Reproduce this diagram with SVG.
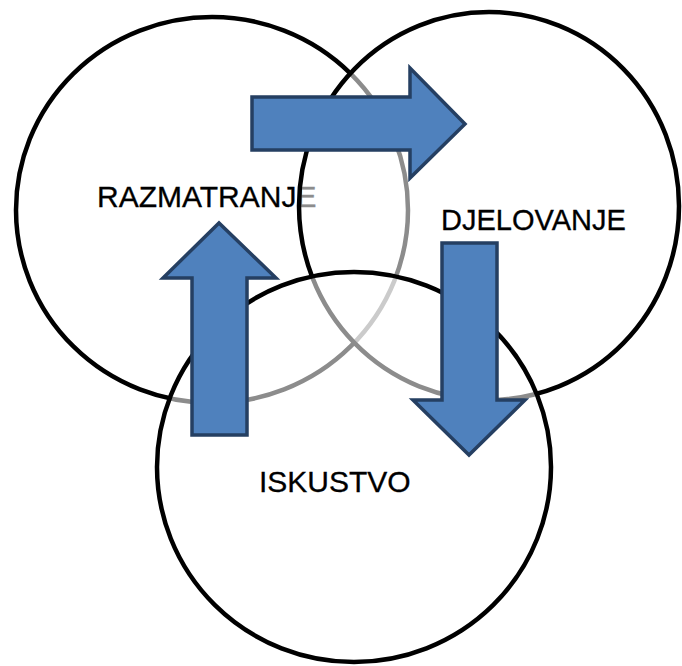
<svg xmlns="http://www.w3.org/2000/svg" width="682" height="666" viewBox="0 0 682 666">
  <style>
    .circ { fill: #ffffff; fill-opacity: 0.55; stroke: #000000; stroke-width: 4.5; }
    .lbl { font-family: "Liberation Sans", Arial, sans-serif; font-size: 30px; fill: #000000; stroke: #000000; stroke-width: 0.3; }
    .arrow { fill: #4F81BD; stroke: #253F62; stroke-width: 3.5; stroke-linejoin: miter; }
  </style>
  <rect width="682" height="666" fill="#ffffff"/>
  <g id="node-razmatranje">
    <ellipse class="circ" cx="212" cy="210" rx="196" ry="193" style="fill-opacity:1"/>
    <text class="lbl" x="97" y="207">RAZMATRANJE</text>
  </g>
  <g id="node-djelovanje">
    <ellipse class="circ" cx="489" cy="206" rx="190" ry="194"/>
    <text class="lbl" x="441" y="230" style="font-size:29px">DJELOVANJE</text>
  </g>
  <g id="node-iskustvo">
    <ellipse class="circ" cx="354" cy="467" rx="197" ry="195"/>
    <text class="lbl" x="259" y="492">ISKUSTVO</text>
  </g>
  <g id="connectors">
    <polygon class="arrow" points="252,97 410,97 410,68 465,124 410,178 410,150 252,150"/>
    <polygon class="arrow" points="192,435 192,278 163,278 219,223 276,278 247,278 247,435"/>
    <polygon class="arrow" points="442,243 497,243 497,400 525,400 469,455 413,400 442,400"/>
  </g>
</svg>
